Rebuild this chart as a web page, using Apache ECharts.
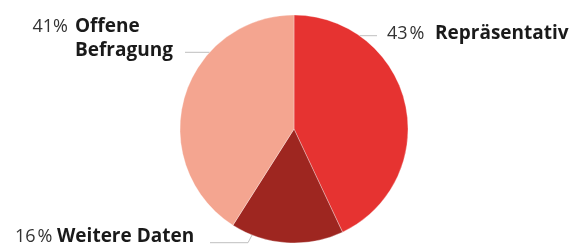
<!DOCTYPE html>
<html><head><meta charset="utf-8">
<script src="https://cdn.jsdelivr.net/npm/echarts@6/dist/echarts.min.js"></script>
<style>html,body{margin:0;padding:0;background:#fff}#c{width:581px;height:246px}</style>
</head><body><div id="c"></div>
<script>
const categories = ['Repräsentativ', 'Weitere Daten', 'Offene Befragung'];
const nameLines = [['Repräsentativ'], ['Weitere Daten'], ['Offene', 'Befragung']];
const values = [43, 16, 41];
const percentLabels = ['43\u200A%', '16\u200A%', '41%'];
const colors = ['#E63331', '#9E2620', '#F4A590'];

const CX = 294, CY = 129, R = 114;
// label placement: text left x, text middle y, percent column width, leader line
const labelPlace = [
  { x: 387, y: 34, pw: 48, lineY: 35.7, endX: 377, side: 1 },
  { x: 15, y: 236.5, pw: 42, lineY: 242.7, endX: 210, side: -1, elbow: 235, bend: 248 },
  { x: 32.5, y: 38.5, pw: 42.5, lineY: 52.3, endX: 185, side: -1 }
];

const chart = echarts.init(document.getElementById('c'), null, { renderer: 'canvas' });
chart.setOption({
  animation: false,
  series: [{
    type: 'pie',
    center: [CX, CY],
    radius: R,
    startAngle: 90,
    clockwise: true,
    data: categories.map((c, i) => ({ name: c, value: values[i], itemStyle: { color: colors[i] } })),
    itemStyle: { borderColor: 'rgba(255,255,255,0.6)', borderWidth: 0.5 },
    label: {
      show: true,
      overflow: 'none',
      formatter: p => {
        const i = p.dataIndex;
        const ln = nameLines[i];
        const pk = 'p' + i;
        let s = '{' + pk + '|' + percentLabels[i] + '}{n|' + ln[0] + '}';
        for (let k = 1; k < ln.length; k++) s += '\n{' + pk + '| }{n|' + ln[k] + '}';
        return s;
      },
      rich: Object.assign(
        { n: { fontFamily: 'Open Sans', fontSize: 19, fontWeight: 'bold', color: '#1a1a1a', lineHeight: 24 } },
        ...labelPlace.map((L, i) => ({ ['p' + i]: { fontFamily: 'Open Sans', fontSize: 18, color: '#333333', width: L.pw, lineHeight: 24, align: 'left' } }))
      )
    },
    labelLine: { show: true, lineStyle: { color: '#BFBFBF', width: 1 } },
    labelLayout: params => {
      const L = labelPlace[params.dataIndex];
      let pts;
      if (L.elbow !== undefined) {
        const dy = L.elbow - CY;
        const sx = CX + L.side * Math.sqrt(Math.max(0, R * R - dy * dy));
        pts = [[sx, L.elbow], [L.bend, L.lineY], [L.endX, L.lineY]];
      } else {
        const dy = L.lineY - CY;
        const sx = CX + L.side * Math.sqrt(R * R - dy * dy);
        pts = [[sx, L.lineY], [sx, L.lineY], [L.endX, L.lineY]];
      }
      return { x: L.x, y: L.y, align: 'left', verticalAlign: 'middle', labelLinePoints: pts };
    }
  }]
});
</script>
</body></html>
